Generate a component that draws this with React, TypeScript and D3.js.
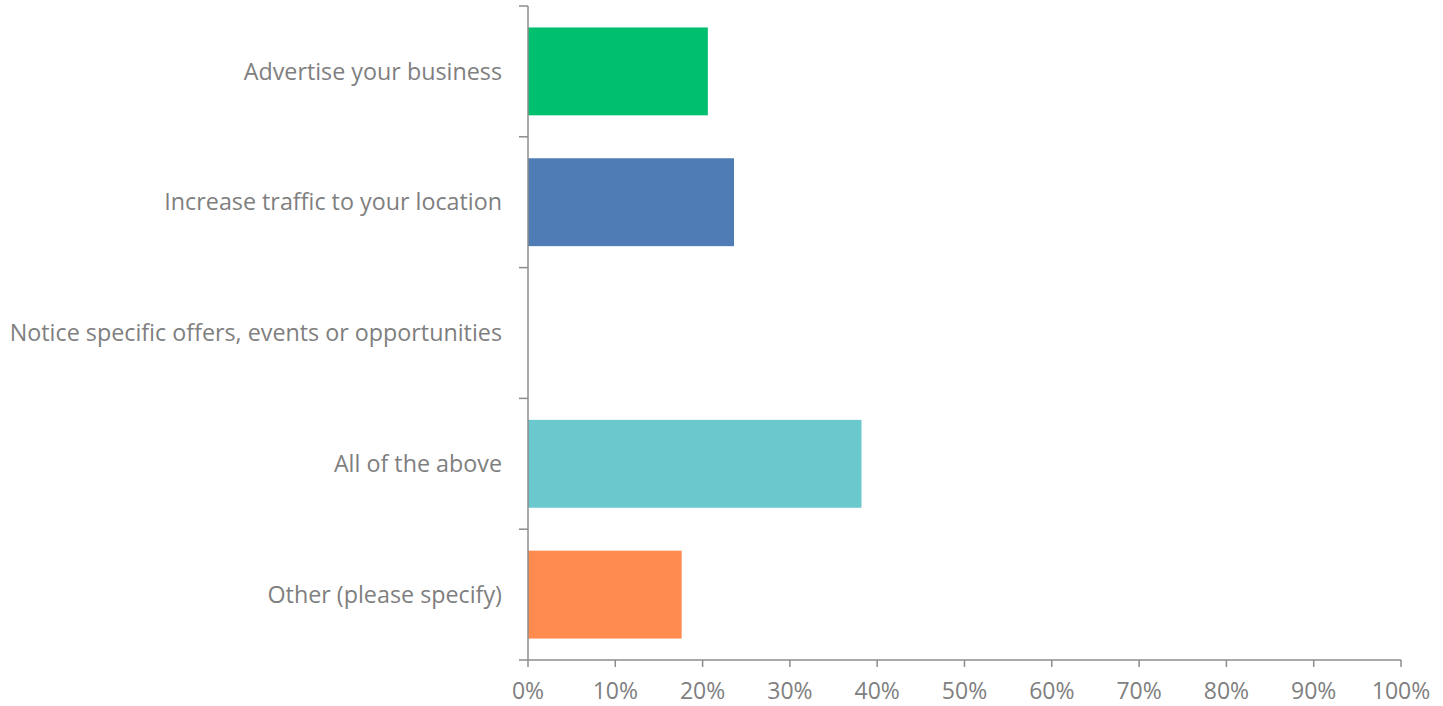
import React from "react";
import * as d3 from "d3";

const categories = [
  "Advertise your business",
  "Increase traffic to your location",
  "Notice specific offers, events or opportunities",
  "All of the above",
  "Other (please specify)",
];
const values = [0.206, 0.236, 0, 0.382, 0.176];
const colors = ["#00BF6F", "#507CB6", "#6BC8CD", "#6BC8CD", "#FF8B4F"];
const xTicks = [0, 0.1, 0.2, 0.3, 0.4, 0.5, 0.6, 0.7, 0.8, 0.9, 1.0];

const W = 1443;
const H = 706;
const left = 528;
const right = 1401;
const top = 6;
const bottom = 660;
const axisColor = "#8c8c8c";
const textColor = "#7f7f7f";
const font = "'Open Sans', sans-serif";

export default function App() {
  const x = d3.scaleLinear().domain([0, 1]).range([left, right]);
  const y = d3.scaleBand<string>().domain(categories).range([top, bottom]).padding(0);
  const step = y.step();
  const barH = step * 0.672;
  const off = (step - barH) / 2;
  const bounds = categories.map((c) => y(c) as number).concat([bottom]);
  return (
    <svg width={W} height={H} style={{ position: "absolute", left: 0, top: 0 }}>
      {categories.map((c, i) => (
        <rect
          key={c}
          x={x(0)}
          y={(y(c) as number) + off}
          width={x(values[i]) - x(0)}
          height={barH}
          fill={colors[i]}
        />
      ))}
      <line x1={left} x2={left} y1={top} y2={bottom} stroke={axisColor} strokeWidth={1.5} />
      {bounds.map((b, i) => (
        <line key={i} x1={left - 9} x2={left} y1={b} y2={b} stroke={axisColor} strokeWidth={1.5} />
      ))}
      <line x1={left} x2={right} y1={bottom} y2={bottom} stroke={axisColor} strokeWidth={1.5} />
      {xTicks.map((t) => (
        <g key={t}>
          <line x1={x(t)} x2={x(t)} y1={bottom} y2={bottom + 7} stroke={axisColor} strokeWidth={1.5} />
          <text
            x={x(t)}
            y={699}
            textAnchor="middle"
            fill={textColor}
            fontFamily={font}
            fontSize={23}
          >
            {d3.format(".0%")(t)}
          </text>
        </g>
      ))}
      {categories.map((c) => (
        <text
          key={c}
          x={502}
          y={(y(c) as number) + step / 2}
          dy="0.35em"
          textAnchor="end"
          fill={textColor}
          fontFamily={font}
          fontSize={23.3}
        >
          {c}
        </text>
      ))}
    </svg>
  );
}
